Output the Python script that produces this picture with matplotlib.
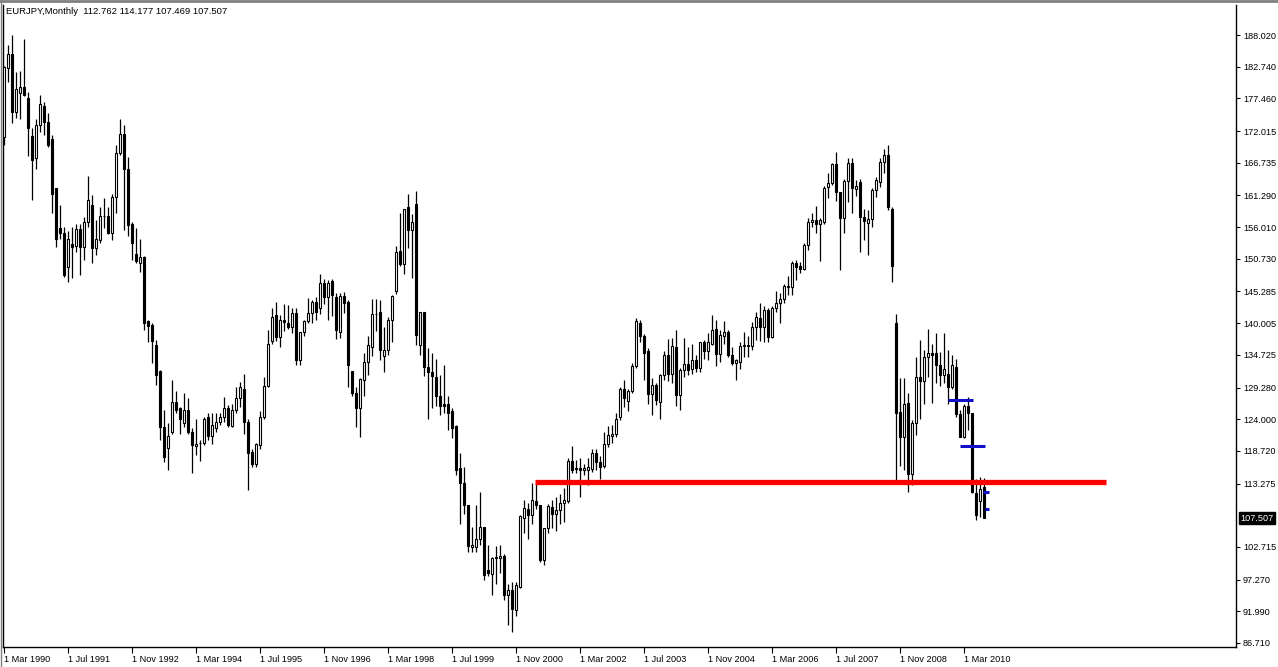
import numpy as np
import matplotlib
matplotlib.use("Agg")
import matplotlib.pyplot as plt

plt.rcParams['font.family'] = ['Liberation Sans', 'DejaVu Sans']

symbol = "EURJPY,Monthly"
last_bar = [112.762, 114.177, 107.469, 107.507]

# monthly bars from 1 Mar 1990 (open, high, low, close)
opens = [
    171.0, 182.5, 184.8, 175.2, 178.3, 179.4, 177.5, 171.2, 167.6, 173.0, 176.2, 173.5,
    170.7, 162.6, 155.8, 155.1, 149.4, 153.2, 152.9, 155.7, 152.7, 156.8, 159.7, 152.6,
    153.9, 157.8, 157.8, 155.0, 161.0, 168.3, 171.5, 165.7, 156.5, 151.6, 150.0, 151.1,
    140.4, 139.7, 136.4, 132.0, 122.7, 119.2, 121.9, 126.9, 125.8, 123.4, 125.6, 121.9,
    119.6, 120.1, 120.0, 124.3, 121.2, 122.6, 123.6, 124.3, 125.8, 122.9, 125.5, 127.5,
    129.1, 123.6, 118.6, 116.6, 119.7, 124.3, 129.6, 137.1, 141.3, 137.7, 140.6, 140.1,
    139.4, 141.7, 133.9, 138.5, 140.3, 141.7, 143.5, 142.6, 146.7, 144.4, 147.1, 144.4,
    138.6, 144.5, 143.5, 132.0, 128.3, 125.9, 130.5, 133.6, 136.1, 141.6, 141.8, 134.5,
    135.6, 140.6, 145.4, 152.1, 149.9, 159.3, 155.6, 159.9, 136.4, 141.8, 132.7, 131.8,
    131.0, 127.8, 126.5, 126.5, 125.3, 122.8, 115.8, 113.3, 109.7, 102.7, 102.7, 104.0,
    106.0, 98.8, 98.2, 100.8, 100.9, 101.2, 94.7, 95.5, 92.2, 96.1, 107.5, 109.0,
    108.1, 110.4, 109.7, 100.5, 105.8, 109.4, 108.2, 108.8, 110.1, 110.4, 117.1, 115.8,
    115.8, 115.5, 115.5, 115.7, 118.4, 116.9, 116.2, 119.9, 121.2, 121.6, 124.4, 129.1,
    127.1, 128.7, 132.9, 140.1, 137.9, 135.3, 128.2, 129.7, 126.9, 131.3, 134.7, 131.5,
    136.0, 128.0, 132.2, 133.2, 132.3, 133.9, 132.6, 136.8, 135.4, 136.6, 139.0, 134.9,
    137.9, 138.6, 134.7, 133.3, 133.6, 136.2, 136.2, 136.2, 139.4, 140.9, 139.4, 142.2,
    137.7, 142.5, 143.3, 144.1, 146.0, 146.1, 149.97, 149.5, 148.97, 153.0, 156.9, 157.2,
    156.5, 156.9, 162.7, 163.4, 166.5, 161.9, 157.6, 163.7, 166.7, 162.3, 163.6, 157.7,
    156.7, 157.3, 162.2, 163.6, 166.9, 168.0, 158.97, 139.97, 125.2, 121.1, 126.7, 114.9,
    123.3, 131.0, 130.3, 134.3, 135.0, 135.1, 133.0, 131.4, 131.6, 129.3, 132.7, 124.9,
    121.1, 126.2, 125.0, 111.7, 110.3, 112.762,
]
highs = [
    182.9, 186.4, 188.0, 181.9, 182.0, 187.4, 178.6, 172.6, 174.1, 178.1, 176.8, 175.1,
    171.4, 162.6, 159.7, 156.1, 155.3, 156.1, 156.5, 156.6, 157.7, 164.5, 161.4, 157.2,
    159.4, 160.8, 159.4, 161.6, 169.7, 174.0, 173.0, 167.7, 156.8, 155.8, 154.1, 151.2,
    140.5, 140.1, 137.2, 132.2, 125.5, 123.3, 130.5, 128.7, 126.1, 128.3, 127.6, 122.5,
    124.1, 120.5, 124.3, 125.0, 125.0, 125.0, 125.0, 127.7, 126.4, 126.5, 129.4, 130.2,
    131.6, 124.0, 119.1, 120.1, 125.3, 131.1, 138.9, 142.6, 143.5, 141.4, 143.2, 143.0,
    142.5, 142.6, 138.6, 140.6, 144.2, 143.9, 144.4, 148.2, 147.3, 147.2, 147.3, 145.1,
    145.1, 145.2, 143.9, 132.0, 129.4, 130.8, 135.0, 137.8, 144.1, 144.1, 143.9, 139.4,
    141.1, 144.7, 152.9, 158.3, 159.1, 161.6, 158.2, 162.1, 141.9, 141.9, 135.8, 135.0,
    134.0, 131.4, 133.0, 127.8, 125.8, 123.0, 118.3, 116.1, 109.7, 106.1, 109.7, 111.9,
    106.0, 103.0, 101.1, 102.8, 103.0, 101.6, 96.6, 96.8, 96.9, 108.0, 110.5, 110.0,
    113.3, 113.4, 109.7, 105.8, 109.9, 110.5, 111.1, 111.6, 112.5, 117.5, 119.5, 117.2,
    117.5, 116.6, 117.5, 119.1, 119.1, 117.8, 121.9, 122.8, 123.0, 125.0, 129.3, 130.5,
    129.1, 133.3, 140.8, 140.5, 138.2, 135.8, 130.8, 130.0, 131.6, 135.3, 137.3, 137.5,
    138.9, 132.5, 137.6, 136.1, 136.5, 134.7, 136.9, 137.2, 138.3, 141.4, 140.5, 138.9,
    140.3, 138.9, 136.1, 134.1, 136.8, 138.6, 137.8, 140.2, 141.9, 143.3, 142.8, 142.5,
    142.8, 145.3, 144.97, 146.6, 147.8, 150.3, 150.5, 150.2, 153.3, 157.5, 158.4, 159.5,
    157.5, 162.9, 164.97, 166.7, 168.6, 161.9, 163.97, 167.5, 167.5, 163.8, 163.97, 159.1,
    158.9, 162.5, 164.4, 167.6, 169.1, 169.7, 159.4, 141.5, 130.8, 130.8, 128.3, 123.9,
    134.4, 137.2, 135.5, 138.97, 136.6, 138.4, 135.2, 138.3, 135.5, 134.7, 134.1, 125.5,
    126.5, 127.7, 125.0, 114.0, 114.4, 114.177,
]
lows = [
    169.7, 180.2, 173.3, 174.2, 174.1, 177.9, 167.9, 160.5, 165.7, 171.8, 171.4, 169.4,
    158.3, 152.7, 154.0, 147.7, 146.9, 147.5, 151.9, 148.0, 150.5, 156.1, 150.1, 151.4,
    153.4, 155.8, 154.8, 153.9, 158.3, 168.1, 155.5, 154.5, 150.5, 150.0, 148.5, 138.9,
    136.9, 133.3, 129.7, 120.5, 116.9, 115.5, 121.6, 125.0, 121.6, 122.7, 121.6, 115.1,
    118.0, 117.1, 119.7, 120.6, 119.9, 121.9, 123.0, 123.6, 122.7, 122.7, 125.0, 126.1,
    121.6, 112.2, 116.1, 116.1, 119.1, 124.0, 129.3, 136.5, 137.1, 136.1, 138.7, 139.0,
    138.4, 133.0, 133.0, 137.9, 140.0, 140.1, 140.6, 141.6, 143.2, 140.6, 141.2, 137.3,
    137.6, 141.7, 129.4, 127.9, 122.7, 121.1, 127.8, 131.4, 134.5, 138.7, 133.9, 131.8,
    134.7, 136.8, 144.9, 149.5, 148.2, 152.5, 147.6, 136.4, 134.7, 131.2, 124.1, 125.9,
    126.2, 124.7, 125.1, 122.2, 120.8, 114.7, 106.6, 108.2, 101.9, 101.9, 101.9, 103.0,
    97.2, 97.8, 94.7, 96.6, 98.3, 93.9, 89.7, 88.6, 91.2, 95.8, 105.0, 104.1,
    106.6, 109.1, 100.2, 99.7, 105.1, 105.8, 105.4, 106.6, 106.8, 110.1, 115.0, 115.0,
    111.1, 114.7, 113.0, 115.2, 115.5, 114.0, 115.8, 119.4, 120.0, 121.1, 123.9, 126.1,
    125.4, 128.3, 132.5, 136.9, 130.5, 126.6, 124.7, 126.4, 124.0, 130.5, 130.3, 130.1,
    126.2, 125.5, 131.1, 131.4, 131.6, 131.9, 131.9, 134.1, 133.9, 136.4, 132.9, 133.6,
    136.6, 134.4, 133.0, 130.5, 132.3, 134.4, 134.3, 135.5, 137.2, 137.1, 136.9, 136.9,
    137.5, 141.9, 140.0, 143.3, 144.7, 144.7, 147.2, 148.3, 148.9, 152.2, 156.1, 155.1,
    150.4, 156.6, 160.8, 163.0, 160.4, 148.9, 154.97, 160.2, 158.4, 161.2, 151.8, 153.9,
    151.4, 156.1, 161.1, 162.7, 165.1, 158.9, 146.8, 113.3, 116.2, 115.5, 111.9, 113.0,
    121.4, 124.1, 126.6, 131.1, 126.7, 130.0, 129.5, 130.0, 126.6, 129.0, 124.4, 121.0,
    120.8, 122.2, 111.7, 107.2, 107.75, 107.469,
]
closes = [
    182.7, 184.8, 175.2, 179.0, 179.4, 178.0, 172.6, 167.2, 173.0, 176.5, 173.5, 169.7,
    161.6, 154.1, 155.1, 148.0, 154.0, 152.7, 155.7, 152.7, 156.8, 160.5, 152.5, 154.0,
    157.9, 157.9, 155.0, 161.0, 168.3, 171.5, 165.7, 156.4, 153.3, 150.4, 151.0, 140.1,
    139.6, 137.0, 131.4, 122.7, 117.7, 121.2, 126.9, 125.6, 124.1, 125.5, 121.9, 119.7,
    119.9, 120.0, 124.1, 121.2, 123.1, 123.6, 124.4, 125.9, 123.0, 125.6, 127.5, 129.3,
    123.6, 118.4, 116.6, 119.9, 124.4, 129.6, 136.5, 141.1, 137.7, 140.6, 140.2, 139.4,
    141.7, 133.9, 138.5, 140.3, 141.7, 143.5, 141.9, 146.7, 144.4, 146.7, 144.7, 138.9,
    144.5, 143.4, 133.0, 128.3, 125.8, 130.7, 133.6, 136.4, 141.6, 141.5, 135.5, 135.6,
    140.6, 144.5, 151.9, 149.9, 159.1, 155.6, 156.8, 138.0, 141.9, 132.7, 131.9, 131.2,
    127.8, 126.2, 126.2, 125.1, 122.6, 115.5, 113.3, 109.7, 102.8, 103.0, 104.0, 106.0,
    98.0, 98.3, 100.8, 101.0, 101.2, 94.7, 95.5, 92.3, 96.4, 107.8, 109.2, 108.1,
    110.5, 109.7, 100.5, 105.8, 109.6, 108.2, 108.9, 110.1, 110.5, 117.1, 115.5, 115.7,
    115.5, 115.8, 116.0, 118.3, 116.9, 116.1, 119.9, 121.3, 121.6, 124.0, 129.0, 127.5,
    128.7, 132.9, 140.4, 137.8, 135.1, 128.2, 129.7, 127.2, 131.4, 134.7, 131.5, 136.2,
    128.0, 132.2, 133.2, 132.2, 133.8, 132.6, 136.8, 135.3, 136.8, 138.9, 134.9, 138.0,
    138.6, 134.7, 133.3, 133.8, 136.2, 136.4, 136.4, 139.4, 141.1, 139.4, 142.2, 137.7,
    142.5, 143.4, 144.1, 146.2, 146.2, 149.97, 149.4, 148.97, 153.0, 156.9, 157.2, 156.5,
    157.2, 162.6, 163.4, 166.5, 161.8, 157.5, 163.7, 166.7, 162.6, 162.9, 157.7, 157.1,
    157.3, 162.2, 163.9, 166.9, 168.0, 159.4, 149.5, 125.1, 121.1, 126.5, 114.9, 123.4,
    131.0, 130.3, 134.3, 135.0, 134.7, 133.0, 131.4, 132.3, 129.3, 133.0, 124.9, 121.1,
    126.2, 125.0, 111.9, 108.0, 112.3, 107.507,
]

date_labels = ["1 Mar 1990", "1 Jul 1991", "1 Nov 1992", "1 Mar 1994", "1 Jul 1995",
               "1 Nov 1996", "1 Mar 1998", "1 Jul 1999", "1 Nov 2000", "1 Mar 2002",
               "1 Jul 2003", "1 Nov 2004", "1 Mar 2006", "1 Jul 2007", "1 Nov 2008",
               "1 Mar 2010"]
date_bars = [0, 16, 32, 48, 64, 80, 96, 112, 128, 144, 160, 176, 192, 208, 224, 240]
price_ticks = [188.020, 182.740, 177.460, 172.015, 166.735, 161.290, 156.010, 150.730,
               145.285, 140.005, 134.725, 129.280, 124.000, 118.720, 113.275, 102.715,
               97.270, 91.990, 86.710]

# drawn objects: (level, first bar, last bar)
support_line = (113.6, 132.75, 275.5)
blue_lines = [(127.2, 235.9, 242.3), (119.5, 239.0, 245.3),
              (111.8, 244.7, 246.3), (109.0, 245.3, 246.3)]

o = np.array(opens)
h = np.array(highs)
l = np.array(lows)
c = np.array(closes)
idx = np.arange(len(o))

fig = plt.figure(figsize=(12.78, 6.67), dpi=100)
ax = fig.add_axes([3 / 1278, 20 / 667, 1233 / 1278, 642 / 667])
ax.set_xlim(-0.25, 308)
ax.set_ylim(86.04, 193.02)

ax.vlines(idx, l, h, color='black', linewidth=0.9, zorder=2)
bull = c >= o
body = np.maximum(np.abs(c - o), 0.08)
ax.bar(idx, body, bottom=np.minimum(o, c), width=0.55,
       color=np.where(bull, 'white', 'black'), edgecolor='black',
       linewidth=0.8, zorder=3)

ax.hlines(support_line[0], support_line[1], support_line[2], color='#ff0000',
          linewidth=3.8, zorder=4)
for lvl, x0, x1 in blue_lines:
    ax.hlines(lvl, x0, x1, color='#1010c8', linewidth=2.2, zorder=4)

ax.yaxis.tick_right()
ax.set_yticks(price_ticks)
ax.set_yticklabels([f"{v:.3f}" for v in price_ticks])
ax.tick_params(axis='y', direction='out', length=3, width=0.8, pad=2,
               labelsize=6.6, colors='black')
ax.set_xticks(date_bars)
ax.set_xticklabels(date_labels, ha='left')
ax.tick_params(axis='x', direction='out', length=4, width=0.8, pad=2,
               labelsize=6.6, colors='black')
for lab in ax.get_xticklabels():
    lab.set_x(lab.get_position()[0])

for side in ['left', 'bottom', 'right']:
    ax.spines[side].set_color('black')
    ax.spines[side].set_linewidth(1.0)
ax.spines['top'].set_visible(False)

ax.annotate(f"{last_bar[3]:.3f}", xy=(1.0, last_bar[3]),
            xycoords=('axes fraction', 'data'), xytext=(3, 0),
            textcoords='offset points', va='center', ha='left',
            fontsize=6.6, color='white',
            bbox=dict(boxstyle='square,pad=0.15', facecolor='black', edgecolor='black'))

fig.text(6 / 1278, 1 - 12 / 667,
         f"{symbol}  " + " ".join(f"{v:.3f}" for v in last_bar),
         fontsize=6.8, va='center', ha='left')

fig.add_artist(plt.Line2D([0, 1], [0.999, 0.999], color='#808080', linewidth=2))
fig.add_artist(plt.Line2D([0.0005, 0.0005], [0, 1], color='#808080', linewidth=1))

fig.savefig("out.png", dpi=100, facecolor='white')
